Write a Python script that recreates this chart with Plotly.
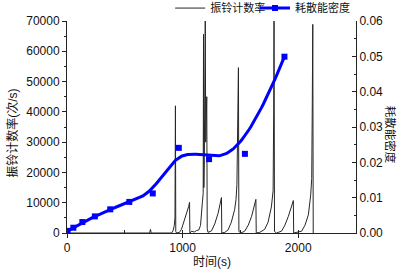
import numpy as np
import plotly.graph_objects as go

# ---- data: ring count rate (left axis) ----
time_s = [0, 715, 722, 728, 905, 918, 928, 934, 938, 941, 948,
          973, 990, 1002, 1020, 1031, 1045, 1052, 1060, 1063,
          1080, 1100, 1120, 1140, 1155, 1165, 1172, 1178, 1181, 1184, 1188, 1192, 1196, 1200, 1204, 1209, 1213,
          1220, 1250, 1278, 1307, 1325, 1336, 1339,
          1365, 1393, 1421, 1450, 1462, 1470, 1474, 1478, 1480, 1483, 1487,
          1505, 1537, 1568, 1597, 1626, 1634, 1637,
          1667, 1710, 1739, 1768, 1783, 1788, 1791, 1795,
          1812, 1856, 1885, 1915, 1943, 1958, 1961,
          1986, 2030, 2059, 2088, 2108, 2117, 2122, 2126, 2130]
ring_rate = [0, 0, 1200, 0, 0, 800, 2500, 5000, 42000, 500, 0,
             200, 1200, 2600, 4500, 5900, 7600, 8700, 10100, 0,
             600, 300, 800, 1000, 2500, 6000, 10500, 13000, 65600, 15000, 25000, 60000, 70000, 30000, 40000, 45000, 1500,
             200, 700, 3000, 6500, 9500, 11700, 0,
             200, 1000, 3500, 7700, 11000, 16000, 39600, 30000, 48300, 54600, 500,
             0, 600, 2600, 5500, 9400, 11100, 0,
             200, 1200, 3500, 8600, 14000, 40000, 70000, 500,
             0, 600, 2600, 5500, 9000, 10700, 0,
             200, 600, 2600, 6000, 12500, 18000, 43100, 68900, 0]

# ---- data: dissipated energy density (right axis) ----
energy_t = [5, 55, 133, 241, 374, 539, 742, 967, 1229, 1539, 1881]
energy_d = [0.0006, 0.0015, 0.0031, 0.0047, 0.0067, 0.0088, 0.0112, 0.0241, 0.0209, 0.0224, 0.0499]

x_ticks = [0, 1000, 2000]
name_ring = "振铃计数率"
name_energy = "耗散能密度"


def bspline_curve(px, py, k=3, n=400):
    P = np.column_stack([px, py]).astype(float)
    m = len(P)
    t = np.concatenate([np.zeros(k), np.linspace(0, 1, m - k + 1), np.ones(k)])
    u = np.linspace(0, 1 - 1e-9, n)
    N = np.array([((t[i] <= u) & (u < t[i + 1])).astype(float) for i in range(len(t) - 1)])
    for d in range(1, k + 1):
        Nn = np.zeros((len(t) - 1 - d, n))
        for i in range(len(t) - 1 - d):
            a = (u - t[i]) / (t[i + d] - t[i]) * N[i] if t[i + d] > t[i] else 0
            b = (t[i + d + 1] - u) / (t[i + d + 1] - t[i + 1]) * N[i + 1] if t[i + d + 1] > t[i + 1] else 0
            Nn[i] = a + b
        N = Nn
    C = N.T @ P
    return C[:, 0], C[:, 1]


cx, cy = bspline_curve(energy_t, energy_d)

FONT = "Liberation Sans, Arial, Noto Sans CJK SC, sans-serif"
BLUE = "#0000FF"

fig = go.Figure()
fig.add_trace(go.Scatter(x=time_s, y=ring_rate, mode="lines", name=name_ring, legend="legend",
                         line=dict(color="#262626", width=1), yaxis="y"))
fig.add_trace(go.Scatter(x=cx, y=cy, mode="lines", showlegend=False,
                         line=dict(color=BLUE, width=3), yaxis="y2"))
fig.add_trace(go.Scatter(x=energy_t, y=energy_d, mode="markers", showlegend=False,
                         marker=dict(color=BLUE, symbol="square", size=6), yaxis="y2"))
fig.add_trace(go.Scatter(x=[None], y=[None], mode="lines+markers", name=name_energy, legend="legend2",
                         line=dict(color=BLUE, width=3),
                         marker=dict(color=BLUE, symbol="square", size=6), yaxis="y2"))

axis_common = dict(showline=True, linecolor="#222", linewidth=1, showgrid=False, zeroline=False,
                   tickfont=dict(family=FONT, size=12, color="#111"), tickcolor="#222")

legend_common = dict(orientation="h", y=1.061, xanchor="left", yanchor="middle",
                     font=dict(family=FONT, size=11, color="#111"), bgcolor="rgba(0,0,0,0)",
                     itemwidth=30)

fig.update_layout(
    width=406, height=271,
    margin=dict(l=67, r=50, t=21, b=38, autoexpand=False),
    plot_bgcolor="white", paper_bgcolor="white",
    font=dict(family=FONT, size=12, color="#111"),
    xaxis=dict(range=[0, 2500], tickvals=x_ticks, ticks="outside", ticklen=4,
               minor=dict(dtick=500, tick0=0, ticks="inside", ticklen=3, tickcolor="#222"),
               **axis_common),
    yaxis=dict(range=[0, 70000], dtick=10000, tick0=0, tickformat="d", ticks="outside", ticklen=4,
               minor=dict(dtick=5000, tick0=0, ticks="outside", ticklen=2, tickcolor="#222"),
               **axis_common),
    yaxis2=dict(range=[0, 0.06], dtick=0.01, tick0=0, tickformat=".2f", overlaying="y", side="right",
                ticks="inside", ticklen=4,
                minor=dict(dtick=0.005, tick0=0, ticks="inside", ticklen=2, tickcolor="#222"),
                **axis_common),
    legend=dict(x=0.357, **legend_common),
    legend2=dict(x=0.6505, **legend_common),
    showlegend=True,
    annotations=[
        dict(text="振铃计数率(次/s)", xref="paper", yref="paper", x=-0.22, y=0.472,
             textangle=-90, showarrow=False, font=dict(family=FONT, size=12, color="#111")),
        dict(text="耗散能密度", xref="paper", yref="paper", x=1.152, y=0.462,
             textangle=90, showarrow=False, font=dict(family=FONT, size=11.5, color="#111")),
        dict(text="时间(s)", xref="paper", yref="paper", x=0.5, y=-0.137, yanchor="middle",
             showarrow=False, font=dict(family=FONT, size=12, color="#111")),
    ],
)

fig.write_html("out.html", config={"displayModeBar": False},
               post_script="document.body.style.margin='0';document.body.style.overflow='hidden';")
